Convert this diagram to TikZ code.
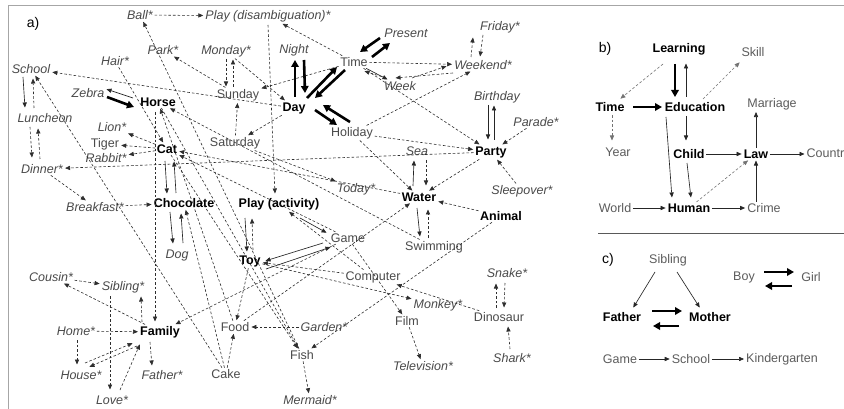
\documentclass[tikz,border=0pt]{standalone}
\usepackage{fontspec}
\setmainfont{Liberation Sans}
\usetikzlibrary{arrows.meta,calc}
\definecolor{labgray}{HTML}{4A4A4A}
\definecolor{lgray}{HTML}{5C5C5C}
\definecolor{dshgray}{HTML}{2E2E2E}
\begin{document}
\begin{tikzpicture}[x=1pt,y=-1pt,
  lab/.style={font={\fontsize{12.5}{14}\selectfont}, text=labgray, inner sep=1.5pt},
  itl/.style={font={\fontsize{12.5}{14}\selectfont\itshape}, text=labgray, inner sep=1.5pt},
  bld/.style={font={\fontsize{12.5}{14}\selectfont\bfseries}, text=black, inner sep=1.5pt},
  glab/.style={font={\fontsize{12.5}{14}\selectfont}, text=lgray, inner sep=1.5pt},
  panel/.style={font={\fontsize{14}{16}\selectfont}, text=black, inner sep=1pt},
  dsh/.style={draw=dshgray, line width=0.6pt, dash pattern=on 2.6pt off 2pt,
     -{Triangle[length=5pt,width=4.2pt]}, shorten >=0.5pt},
  thn/.style={draw=black!85, line width=0.65pt, -{Triangle[length=5pt,width=4.2pt]}, shorten >=0.5pt},
  thk/.style={draw=black, line width=2.6pt, -{Triangle[length=7pt,width=7.5pt]}}
]
\useasboundingbox (0,0) rectangle (844,409);
\fill[white] (0,0) rectangle (844,409);
% frame lines
\draw[black!35, line width=0.8pt] (8,409) -- (8,5) -- (844,5);
\draw[black!65, line width=0.8pt] (598,233) -- (844,233);

% ---------------- panel a ----------------
\node[panel] (la) at (33,24) {a)};
\node[itl] (Ball) at (140,15) {Ball*};
\node[itl] (PlayD) at (268,16) {Play (disambiguation)*};
\node[itl] (Park) at (163,50) {Park*};
\node[itl] (Monday) at (226,51) {Monday*};
\node[itl] (Night) at (294,50) {Night};
\node[itl] (Present) at (406,33) {Present};
\node[lab] (Time) at (354,62) {Time};
\node[itl] (Friday) at (500,27) {Friday*};
\node[itl] (Weekend) at (483,65) {Weekend*};
\node[itl] (Week) at (400,86) {Week};
\node[itl] (Hair) at (115,61) {Hair*};
\node[itl] (School) at (31,69) {School};
\node[lab] (Sunday) at (238,95) {Sunday};
\node[bld] (Day) at (294,108) {Day};
\node[itl] (Zebra) at (88,93) {Zebra};
\node[bld] (Horse) at (158,102) {Horse};
\node[itl] (Luncheon) at (45,118) {Luncheon};
\node[itl] (Lion) at (112,127) {Lion*};
\node[itl] (Birthday) at (497,97) {Birthday};
\node[lab] (Holiday) at (352,133) {Holiday};
\node[itl] (Parade) at (536,122) {Parade*};
\node[lab] (Tiger) at (105,144) {Tiger};
\node[bld] (Cat) at (167,149) {Cat};
\node[lab] (Saturday) at (235,143) {Saturday};
\node[itl] (Rabbit) at (106,158) {Rabbit*};
\node[itl] (Dinner) at (42,169) {Dinner*};
\node[bld] (Party) at (491,152) {Party};
\node[itl] (Sea) at (417,151) {Sea};
\node[itl] (Today) at (356,189) {Today*};
\node[bld] (Water) at (419,197) {Water};
\node[itl] (Sleepover) at (522,191) {Sleepover*};
\node[bld] (Animal) at (501,216) {Animal};
\node[itl] (Breakfast) at (95,207) {Breakfast*};
\node[bld] (Chocolate) at (184,203) {Chocolate};
\node[bld] (PlayA) at (279,204) {Play (activity)};
\node[lab] (Game) at (348,238) {Game};
\node[lab] (Swimming) at (434,247) {Swimming};
\node[itl] (Dog) at (177,255) {Dog};
\node[bld] (Toy) at (250,261) {Toy};
\node[itl] (Cousin) at (51,277) {Cousin*};
\node[itl] (Sibling) at (123,287) {Sibling*};
\node[lab] (Computer) at (373,277) {Computer};
\node[itl] (Snake) at (507,273) {Snake*};
\node[itl] (Monkey) at (438,305) {Monkey*};
\node[lab] (Dinosaur) at (499,317) {Dinosaur};
\node[lab] (Film) at (407,321) {Film};
\node[itl] (Home) at (76,331) {Home*};
\node[bld] (Family) at (160,332) {Family};
\node[lab] (Food) at (235,327) {Food};
\node[itl] (Garden) at (324,327) {Garden*};
\node[lab] (Fish) at (302,355) {Fish};
\node[itl] (Television) at (423,366) {Television*};
\node[itl] (Shark) at (512,358) {Shark*};
\node[itl] (House) at (81,375) {House*};
\node[itl] (Father) at (162,375) {Father*};
\node[lab] (Cake) at (226,374) {Cake};
\node[itl] (Love) at (112,400) {Love*};
\node[itl] (Mermaid) at (310,400) {Mermaid*};

% thick pairs
\draw[thk] ($(Day)+(1,-11)$) -- ($(Night)+(1,10)$);
\draw[thk] ($(Night)+(10,10)$) -- ($(Day)+(11,-15)$);
\draw[thk] ($(Day)+(13,-10)$) -- ($(Time)+(-17,5)$);
\draw[thk] ($(Time)+(-9,8)$) -- ($(Day)+(21,-10)$);
\draw[thk] ($(Present)+(-26,5)$) -- ($(Time)+(6,-10)$);
\draw[thk] ($(Time)+(18,-5)$) -- ($(Present)+(-16,10)$);
\draw[thk] ($(Day)+(21,2)$) -- ($(Holiday)+(-15,-8)$);
\draw[thk] ($(Holiday)+(-2,-11)$) -- ($(Day)+(29,-3)$);
\draw[thk] ($(Zebra)+(19,4)$) -- ($(Horse)+(-24,5)$);
\draw[thn] ($(Horse)+(-25,-4)$) -- ($(Zebra)+(18,-4)$);

% thin solid
\draw[thn] (Time) -- (Week);
\draw[thn] ($(School)+(-8,8)$) -- ($(Luncheon)+(-20,-10)$);
\draw[thn] ($(Cat)+(-2,12)$) -- ($(Chocolate)+(-17,-9)$);
\draw[thn] ($(Chocolate)+(-8,-10)$) -- ($(Cat)+(7,12)$);
\draw[thn] ($(Chocolate)+(-14,9)$) -- ($(Dog)+(-4,-11)$);
\draw[thn] ($(Dog)+(6,-12)$) -- ($(Chocolate)+(-3,10)$);
\draw[thn] ($(PlayA)+(-34,14)$) -- ($(Toy)+(-3,-9)$);
\draw[dsh] ($(Toy)+(3,-11)$) -- ($(PlayA)+(-27,14)$);
\draw[thn] ($(PlayA)+(21,14)$) -- ($(Game)+(-21,-5)$);
\draw[thn] ($(Game)+(-25,5)$) -- ($(Toy)+(15,0)$);
\draw[thn] ($(Toy)+(16,8)$) -- ($(Game)+(-17,9)$);
\draw[thn] ($(Birthday)+(-9,8)$) -- ($(Party)+(-3,-12)$);
\draw[thn] ($(Party)+(3,-12)$) -- ($(Birthday)+(-3,8)$);
\draw[thn] ($(Water)+(-6,-11)$) -- ($(Sea)+(-3,9)$);
\draw[dsh] ($(Sea)+(9,9)$) -- ($(Water)+(7,-11)$);
\draw[thn] ($(Water)+(-2,11)$) -- ($(Swimming)+(-14,-10)$);
\draw[dsh] ($(Swimming)+(-6,-9)$) -- ($(Water)+(9,12)$);

% dashed pairs
\draw[dsh] ($(Luncheon)+(-11,-10)$) -- ($(School)+(2,9)$);
\draw[dsh] ($(Luncheon)+(-15,9)$) -- ($(Dinner)+(-10,-11)$);
\draw[dsh] ($(Dinner)+(-2,-10)$) -- ($(Luncheon)+(-7,10)$);
\draw[dsh] ($(Monday)+(0,8)$) -- ($(Sunday)+(-12,-8)$);
\draw[dsh] ($(Sunday)+(-5,-8)$) -- ($(Monday)+(7,8)$);
\draw[dsh] ($(Week)+(12,-8)$) -- ($(Weekend)+(-36,1)$);
\draw[dsh] ($(Weekend)+(-30,8)$) -- ($(Week)+(-5,-8)$);
\draw[dsh] ($(Weekend)+(-12,-8)$) -- ($(Friday)+(-27,10)$);
\draw[dsh] ($(Friday)+(-17,8)$) -- ($(Weekend)+(-3,-8)$);
\draw[dsh] ($(Dinosaur)+(-3,-9)$) -- ($(Snake)+(-11,10)$);
\draw[dsh] ($(Snake)+(-2,10)$) -- ($(Dinosaur)+(5,-9)$);
\draw[dsh] ($(Shark)+(-2,-9)$) -- ($(Dinosaur)+(9,9)$);
\draw[dsh] ($(House)+(4,-12)$) -- ($(Family)+(-27,11)$);
\draw[dsh] ($(Family)+(-23,14)$) -- ($(House)+(8,-8)$);
\draw[dsh] ($(Family)+(-18,-10)$) -- ($(Sibling)+(18,9)$);
\draw[dsh] ($(Sibling)+(-13,9)$) -- ($(Love)+(-2,-10)$);
\draw[dsh] ($(Love)+(8,-10)$) -- ($(Family)+(-20,12)$);
\draw[dsh] ($(Family)+(-10,10)$) -- ($(Father)+(-10,-9)$);
\draw[dsh] ($(Horse)+(-3,10)$) -- ($(Family)+(-5,-10)$);
\draw[dsh] ($(PlayD)+(0,9)$) -- ($(PlayA)+(-4,-10)$);
\draw[dsh] ($(Week)+(-14,-8)$) -- ($(Time)+(10,9)$);
\draw[dsh] ($(Home)+(1,9)$) -- ($(House)+(-4,-10)$);

% dashed singles
\draw[dsh] (Ball) -- (PlayD);
\draw[dsh] (Time) -- (PlayD);
\draw[dsh] (Sunday) -- (Park);
\draw[dsh] (Monday) -- (Day);
\draw[dsh] (Day) -- (School);
\draw[dsh] (Cake) -- (School);
\draw[dsh] (Dinner) -- (Breakfast);
\draw[dsh] (Breakfast) -- (Chocolate);
\draw[dsh] (Party) -- (Dinner);
\draw[dsh] (Cat) -- (Lion);
\draw[dsh] (Cat) -- (Tiger);
\draw[dsh] (Cat) -- (Rabbit);
\draw[dsh] (Hair) -- (Cat);
\draw[dsh] (Fish) -- (Ball);
\draw[dsh] (Time) -- (Sunday);
\draw[dsh] (Day) -- (Saturday);
\draw[dsh] (Saturday) -- (Sunday);
\draw[dsh] (Swimming) -- (Horse);
\draw[dsh] (Game) -- (Cat);
\draw[dsh] (Water) -- (Cat);
\draw[dsh] (Holiday) -- (Water);
\draw[dsh] (Holiday) -- (Weekend);
\draw[dsh] (Time) -- (Weekend);
\draw[dsh] (Holiday) -- (Party);
\draw[dsh] (Time) -- (Party);
\draw[dsh] (Parade) -- (Party);
\draw[dsh] (Sleepover) -- (Party);
\draw[dsh] (Animal) -- (Water);
\draw[dsh] (Party) -- (Water);
\draw[dsh] (Animal) -- (Fish);
\draw[dsh] (Dinosaur) -- (Computer);
\draw[dsh] (Film) -- (Television);
\draw[dsh] (Fish) -- (Mermaid);
\draw[dsh] (Garden) -- (Food);
\draw[dsh] (Toy) -- (Food);
\draw[dsh] (Cake) -- (Food);
\draw[dsh] (Home) -- (Family);
\draw[dsh] (Family) -- (Cousin);
\draw[dsh] (Cousin) -- (Sibling);
\draw[dsh] (Game) -- (Family);
\draw[dsh] (Toy) -- (Monkey);
\draw[dsh] (Game) -- (Film);
\draw[dsh] (Cat) -- (Fish);
\draw[dsh] (Horse) -- (Fish);
\draw[dsh] (Cake) -- (Chocolate);
\draw[dsh] (Computer) -- (PlayA);
\draw[dsh] (Food) -- (Horse);
\draw[dsh] (Food) -- (Water);
\draw[dsh] (Saturday) -- (Today);
\draw[dsh] (Computer) -- (Toy);

% ---------------- panel b ----------------
\node[panel] (lb) at (605,49) {b)};
\node[bld] (bLearning) at (679,49) {Learning};
\node[glab] (bSkill) at (753,52) {Skill};
\node[bld] (bTime) at (610,107) {Time};
\node[bld] (bEducation) at (695,107) {Education};
\node[glab] (bMarriage) at (772,104) {Marriage};
\node[glab] (bYear) at (618,152) {Year};
\node[bld] (bChild) at (689,154) {Child};
\node[bld] (bLaw) at (756,154) {Law};
\node[glab, anchor=west] (bCountry) at (805,154) {Country};
\node[glab] (bWorld) at (615,208) {World};
\node[bld] (bHuman) at (689,208) {Human};
\node[glab] (bCrime) at (764,208) {Crime};

\draw[thk, line width=2.4pt] ($(bLearning)+(-4,15)$) -- ($(bEducation)+(-20,-10)$);
\draw[thn] ($(bEducation)+(-9,-10)$) -- ($(bLearning)+(7,14)$);
\draw[dsh, draw=black!55] ($(bLearning)+(-16,15)$) -- ($(bTime)+(10,-8)$);
\draw[dsh, draw=black!55] ($(bEducation)+(8,-8)$) -- ($(bSkill)+(-13,10)$);
\draw[thk, line width=2.4pt] ($(bTime)+(23,0)$) -- ($(bEducation)+(-33,0)$);
\draw[dsh, draw=black!55] ($(bTime)+(2,8)$) -- ($(bYear)+(-6,-11)$);
\draw[thn] ($(bEducation)+(-9,9)$) -- ($(bChild)+(-3,-13)$);
\draw[thn] ($(bEducation)+(-29,10)$) -- ($(bHuman)+(-17,-10)$);
\draw[thn] ($(bChild)+(-2,9)$) -- ($(bHuman)+(2,-10)$);
\draw[thn] (bChild) -- (bLaw);
\draw[thn] (bLaw) -- (bMarriage.south -| bLaw);
\draw[thn] (bLaw) -- (bCountry);
\draw[dsh, draw=black!55] (bHuman) -- (bLaw);
\draw[thn] (bWorld) -- (bHuman);
\draw[thn] (bHuman) -- (bCrime);
\draw[thn] (bCrime.north -| bLaw) -- (bLaw);

% ---------------- panel c ----------------
\node[panel] (lc) at (608,260) {c)};
\node[glab] (cSibling) at (668,260) {Sibling};
\node[glab] (cBoy) at (744,277) {Boy};
\node[glab] (cGirl) at (811,277) {Girl};
\node[bld] (cFather) at (622,317) {Father};
\node[bld] (cMother) at (710,317) {Mother};
\node[glab] (cGame) at (620,359) {Game};
\node[glab] (cSchool) at (691,359) {School};
\node[glab] (cKinder) at (782,359) {Kindergarten};

\draw[thn] ($(cSibling)+(-13,12)$) -- ($(cFather)+(11,-9)$);
\draw[thn] ($(cSibling)+(9,12)$) -- ($(cMother)+(-10,-9)$);
\draw[thk, line width=2.4pt] ($(cFather)+(30,-6)$) -- ($(cMother)+(-28,-6)$);
\draw[thk, line width=2.4pt] ($(cMother)+(-31,9)$) -- ($(cFather)+(31,9)$);
\draw[thk, line width=2.4pt] ($(cBoy)+(20,-5)$) -- ($(cGirl)+(-17,-5)$);
\draw[thk, line width=2.4pt] ($(cGirl)+(-19,9)$) -- ($(cBoy)+(21,9)$);
\draw[thn] (cGame) -- (cSchool);
\draw[thn] (cSchool) -- (cKinder);
\end{tikzpicture}
\end{document}
